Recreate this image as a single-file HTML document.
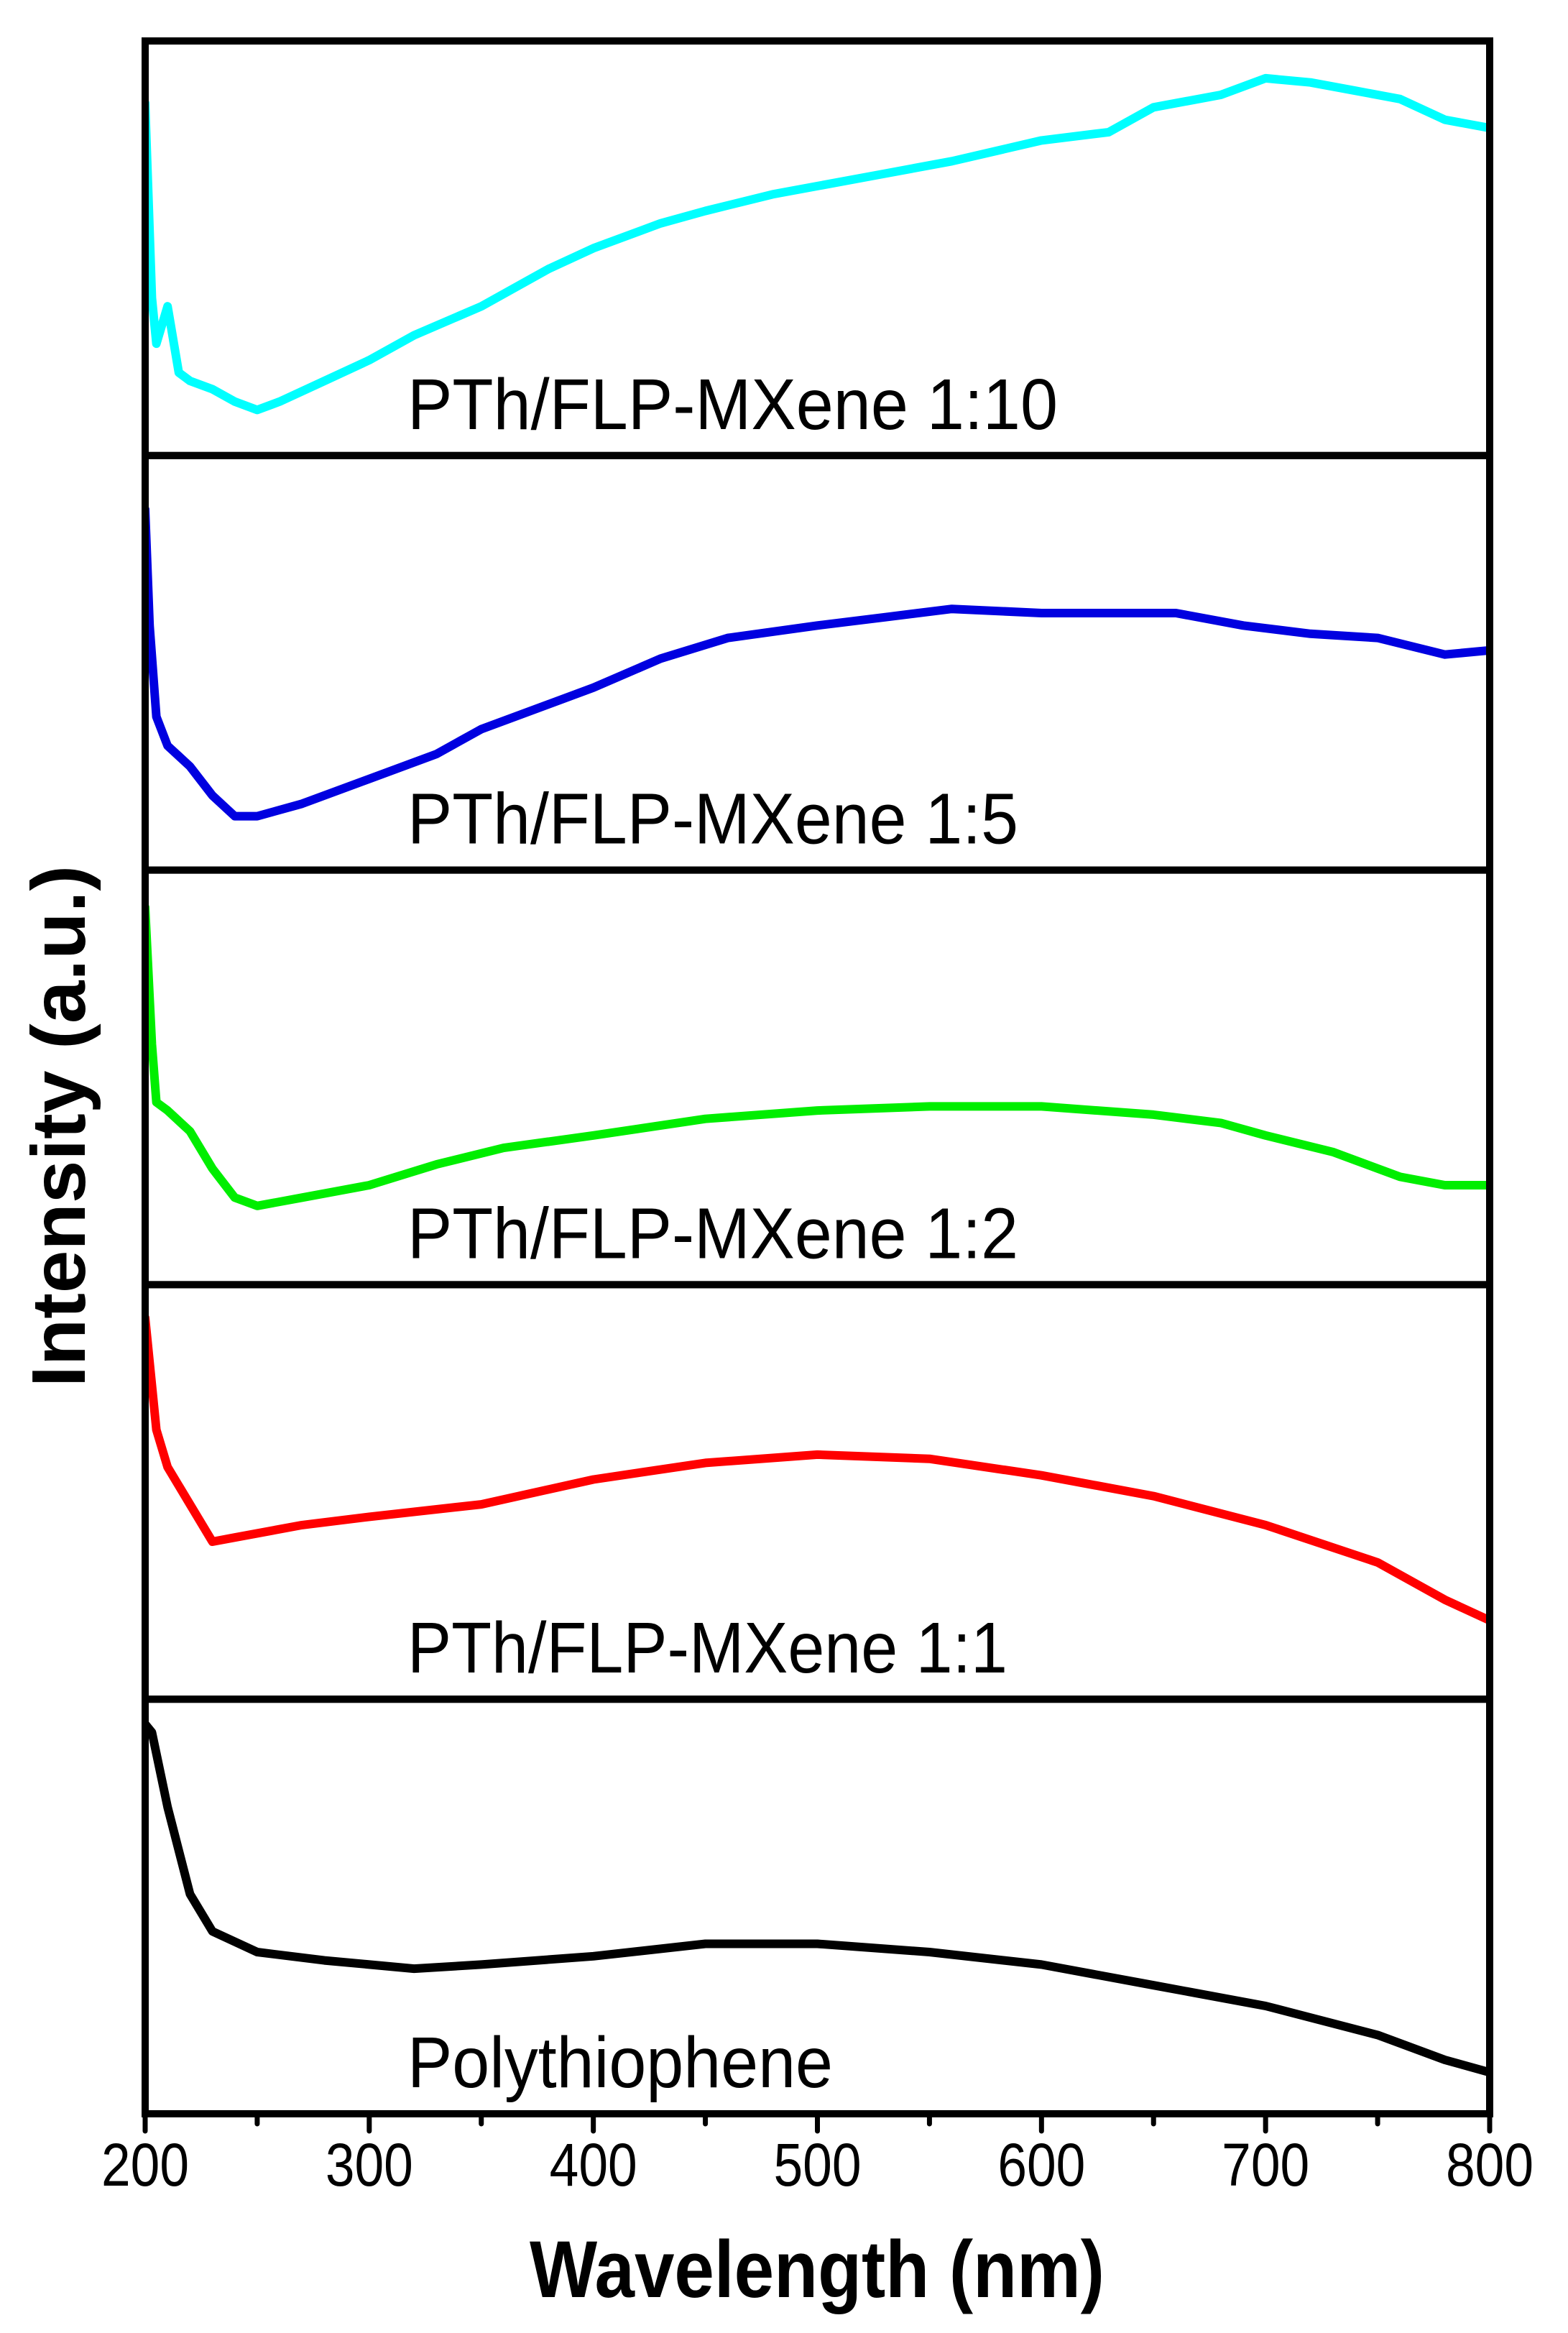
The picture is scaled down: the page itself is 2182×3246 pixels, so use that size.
<!DOCTYPE html>
<html><head><meta charset="utf-8"><style>
html,body{margin:0;padding:0;background:#fff;}
svg{display:block;}
text{font-family:"Liberation Sans",Arial,sans-serif;}
</style></head><body>
<svg id="chart" width="2182" height="3246" viewBox="0 0 2182 3246" xmlns="http://www.w3.org/2000/svg">
<g id="plot"></g>
<text x="1137" y="3196" font-size="112" font-weight="bold" text-anchor="middle" textLength="800" lengthAdjust="spacingAndGlyphs">Wavelength (nm)</text>
<text transform="translate(118,1567) rotate(-90)" font-size="106" font-weight="bold" text-anchor="middle" textLength="726" lengthAdjust="spacingAndGlyphs">Intensity (a.u.)</text>
</svg>
<script>
const xTicks = [200, 300, 400, 500, 600, 700, 800];
const xMinor = [250, 350, 450, 550, 650, 750];
const labels = ["PTh/FLP-MXene 1:10", "PTh/FLP-MXene 1:5", "PTh/FLP-MXene 1:2", "PTh/FLP-MXene 1:1", "Polythiophene"];
const labelLen = [905, 850, 850, 835, 592];
const colors = ["#00ffff", "#0000e0", "#00ee00", "#ff0000", "#000000"];
const wlCyan = [200,203,205,210,215,220,230,240,250,260,280,300,320,350,380,400,430,450,480,500,530,560,600,630,650,680,700,720,740,760,780,800];
const valCyan = [85,38,27,36,20,18,16,13,11,13,18,23,29,36,45,50,56,59,63,65,68,71,76,78,84,87,91,90,88,86,81,79];
const wlBlue = [200,202,205,210,220,230,240,250,270,300,330,350,380,400,430,460,500,530,560,600,630,660,690,720,750,780,800];
const valBlue = [87,59,37,30,25,18,13,13,16,22,28,34,40,44,51,56,59,61,63,62,62,62,59,57,56,52,53];
const wlGreen = [200,203,205,210,220,230,240,250,270,300,330,360,400,450,500,550,600,650,680,700,730,760,780,800];
const valGreen = [91,58,44,42,37,28,21,19,21,24,29,33,36,40,42,43,43,41,39,36,32,26,24,24];
const wlRed = [200,205,210,220,230,240,270,300,350,400,450,500,550,600,650,700,750,780,800];
const valRed = [92,65,56,47,38,39,42,44,47,53,57,59,58,54,49,42,33,24,19];
const wlBlack = [200,203,210,220,230,250,280,320,350,400,450,480,500,550,600,650,700,750,780,800];
const valBlack = [94,92,74,53,44,39,37,35,36,38,41,41,41,39,36,31,26,19,13,10];
const seriesWl = [wlCyan, wlBlue, wlGreen, wlRed, wlBlack];
const seriesVal = [valCyan, valBlue, valGreen, valRed, valBlack];
const seriesNames = ["series-1-10", "series-1-5", "series-1-2", "series-1-1", "series-polythiophene"];

const L = 202, R = 2073, T = 57, B = 2941, N = 5;
const PH = (B - T) / N;
const xs = w => L + (w - 200) / 600 * (R - L);
const ys = (v, i) => T + i * PH + (1 - v / 100) * PH;
const NS = "http://www.w3.org/2000/svg";
const plot = document.getElementById('plot');
function mk(tag, attrs, parent) {
  const e = document.createElementNS(NS, tag);
  for (const k in attrs) e.setAttribute(k, attrs[k]);
  (parent || plot).appendChild(e);
  return e;
}
const defs = mk('defs', {});
for (let i = 0; i < N; i++) {
  const cp = mk('clipPath', {id: 'cp' + i}, defs);
  mk('rect', {x: L, y: T + i * PH, width: R - L, height: PH}, cp);
  let d = '';
  seriesWl[i].forEach((w, j) => { d += (j ? 'L' : 'M') + xs(w).toFixed(1) + ',' + ys(seriesVal[i][j], i).toFixed(1); });
  const p = mk('path', {d: d, fill: 'none', stroke: colors[i], 'stroke-width': 12, 'stroke-linejoin': 'round', 'stroke-linecap': 'round', 'clip-path': 'url(#cp' + i + ')'});
  
  
  const t = mk('text', {x: 567, y: T + (i + 1) * PH - 37, 'font-size': 100, textLength: labelLen[i], lengthAdjust: 'spacingAndGlyphs'});
  t.textContent = labels[i];
  
  
}
for (let i = 0; i < N; i++) {
  const r = mk('rect', {x: L, y: T + i * PH, width: R - L, height: PH, fill: 'none', stroke: '#000', 'stroke-width': 10});
  
  
}
xTicks.forEach(w => {
  const l = mk('line', {x1: xs(w), x2: xs(w), y1: B, y2: B + 24, stroke: '#000', 'stroke-width': 7, 'stroke-linecap': 'round'});
  
  
  const t = mk('text', {x: xs(w), y: 3041, 'font-size': 84, 'text-anchor': 'middle', textLength: 122, lengthAdjust: 'spacingAndGlyphs'});
  t.textContent = w;
  
  
});
xMinor.forEach(w => {
  const l = mk('line', {x1: xs(w), x2: xs(w), y1: B, y2: B + 14, stroke: '#000', 'stroke-width': 7, 'stroke-linecap': 'round'});
  
  
});
</script>
</body></html>
